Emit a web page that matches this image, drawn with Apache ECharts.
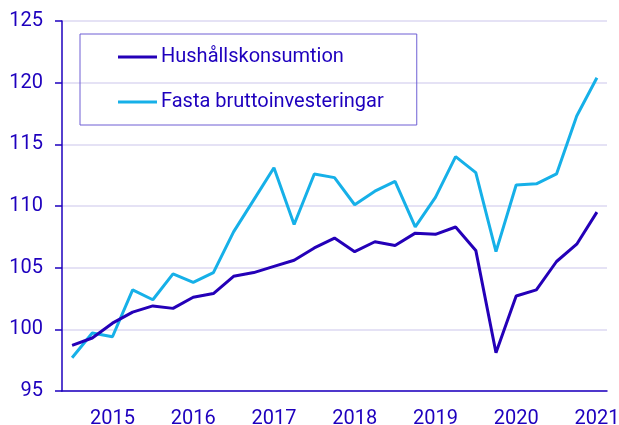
<!DOCTYPE html>
<html>
<head>
    <meta charset="utf-8">
    <title>Hushållskonsumtion och fasta bruttoinvesteringar</title>
    <script src="https://cdn.jsdelivr.net/npm/echarts@6/dist/echarts.min.js"></script>
    <style>
        html, body { margin: 0; padding: 0; background: #fff; }
    </style>
</head>
<body>
    <div id="main" style="width: 619px;height:425px;"></div>
    <script>
        // kvartal 2015K1 - 2021K3
        var years = ['2015', '2016', '2017', '2018', '2019', '2020', '2021'];
        var quarters = [];
        years.forEach(function (y) {
            for (var q = 1; q <= 4; q++) quarters.push(y + 'K' + q);
        });
        quarters = quarters.slice(0, 27);

        var hushall = [98.7, 99.3, 100.5, 101.4, 101.9, 101.7, 102.6, 102.9, 104.3, 104.6, 105.1, 105.6,
            106.6, 107.4, 106.3, 107.1, 106.8, 107.8, 107.7, 108.3, 106.4, 98.1, 102.7, 103.2,
            105.5, 106.9, 109.5];
        var investeringar = [97.7, 99.7, 99.4, 103.2, 102.4, 104.5, 103.8, 104.6, 107.9, 110.5, 113.1, 108.5,
            112.6, 112.3, 110.1, 111.2, 112.0, 108.3, 110.7, 114.0, 112.7, 106.3, 111.7, 111.8,
            112.6, 117.3, 120.4];

        var textColor = '#1e00be';
        var myChart = echarts.init(document.getElementById('main'));

        var option = {
            animation: false,
            textStyle: { fontFamily: 'Roboto' },
            grid: { left: 62, right: 12, top: 21, bottom: 34, outerBoundsMode: 'none' },
            legend: {
                orient: 'vertical',
                left: 80,
                top: 34,
                padding: [13, 33, 13, 38],
                itemGap: 25,
                itemWidth: 39,
                itemHeight: 3,
                icon: 'rect',
                borderColor: '#6e5fd4',
                borderWidth: 1,
                textStyle: { color: textColor, fontSize: 20, fontFamily: 'Roboto', padding: [0, 0, 0, -1] },
                data: ['Hushållskonsumtion', 'Fasta bruttoinvesteringar']
            },
            xAxis: {
                type: 'category',
                data: quarters,
                boundaryGap: true,
                axisLine: { lineStyle: { color: textColor, width: 1.5 } },
                axisTick: {
                    length: 6,
                    interval: function (idx) { return idx % 4 === 0; },
                    lineStyle: { color: textColor, width: 1.5 }
                },
                axisLabel: {
                    interval: function (idx) { return idx % 4 === 2; },
                    formatter: function (v) { return v.slice(0, 4); },
                    color: textColor,
                    fontSize: 20,
                    margin: 18
                },
                splitLine: { show: false }
            },
            yAxis: {
                type: 'value',
                min: 95,
                max: 125,
                interval: 5,
                axisLine: { show: true, lineStyle: { color: textColor, width: 1.5 } },
                axisTick: { show: true, length: 7, lineStyle: { color: textColor, width: 1.5 } },
                axisLabel: { color: textColor, fontSize: 20, margin: 19 },
                splitLine: { lineStyle: { color: '#dcd8f2', width: 1.5 } }
            },
            series: [{
                name: 'Hushållskonsumtion',
                type: 'line',
                data: hushall,
                symbol: 'none',
                itemStyle: { color: '#2400b8' },
                lineStyle: { color: '#2400b8', width: 3 },
                z: 3
            }, {
                name: 'Fasta bruttoinvesteringar',
                type: 'line',
                data: investeringar,
                symbol: 'none',
                itemStyle: { color: '#16b0e8' },
                lineStyle: { color: '#16b0e8', width: 3 },
                z: 2
            }]
        };
        myChart.setOption(option);
    </script>
</body>
</html>
